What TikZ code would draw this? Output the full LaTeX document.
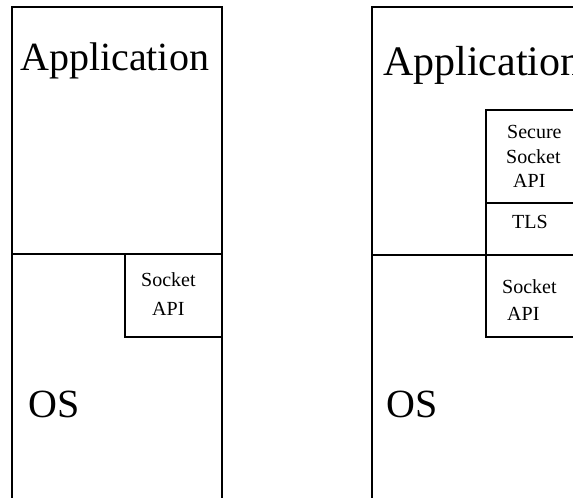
\documentclass[tikz,border=0pt]{standalone}
\usepackage{fontspec}
\setmainfont{Liberation Serif}
\begin{document}
\begin{tikzpicture}[x=1pt,y=-1pt,
  frame/.style={draw=black,line width=1.6pt},
  bigtext/.style={inner sep=0pt,anchor=base west,font=\fontsize{40}{48}\selectfont},
  smalltext/.style={inner sep=0pt,anchor=base west,font=\fontsize{20}{24}\selectfont}]
\useasboundingbox (0,0) rectangle (573,498);
\clip (0,0) rectangle (573,498);
% left stack
\draw[frame] (12,7) rectangle (222,520);
\draw[frame] (12,254) -- (222,254);
\draw[frame] (125,254) rectangle (222,337);
\node[bigtext] (appL) at (20,70) {Application};
\node[bigtext] (osL) at (28,417) {OS};
\node[smalltext] (sockL1) at (141,286) {Socket};
\node[smalltext] (sockL2) at (152,315) {API};
% right stack
\draw[frame] (372,7) rectangle (620,520);
\draw[frame] (372,255) -- (486,255);
\draw[frame] (486,110) rectangle (620,203);
\draw[frame] (486,203) rectangle (620,255);
\draw[frame] (486,255) rectangle (620,337);
\node[bigtext,font=\fontsize{42}{50}\selectfont] (appR) at (383,75) {Application};
\node[bigtext] (osR) at (386,417) {OS};
\node[smalltext] (ssR1) at (507,138) {Secure};
\node[smalltext] (ssR2) at (506,163) {Socket};
\node[smalltext] (ssR3) at (513,187) {API};
\node[smalltext] (tlsR) at (512,228) {TLS};
\node[smalltext] (sockR1) at (502,293) {Socket};
\node[smalltext] (sockR2) at (507,320) {API};
\end{tikzpicture}
\end{document}
